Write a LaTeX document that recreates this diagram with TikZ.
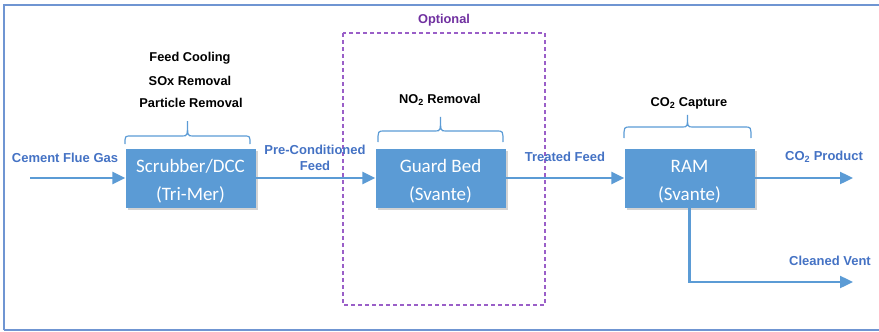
\documentclass[tikz,border=0pt]{standalone}
\usepackage{fontspec}
\setmainfont{Liberation Sans}
\newfontfamily\boxfont{Carlito}
\usetikzlibrary{arrows.meta,shadows}
\definecolor{boxblue}{HTML}{5B9BD5}
\definecolor{lblblue}{HTML}{4472C4}
\definecolor{framec}{HTML}{6F95D2}
\definecolor{optpurple}{HTML}{7030A0}
\definecolor{dashpurple}{HTML}{9A5FC8}
\newcommand\boxtxt[2]{\raisebox{-7pt}[0pt][0pt]{\begin{tabular}{@{}c@{}}#1\\#2\end{tabular}}}
\tikzset{
  procbox/.style={fill=boxblue, draw=none, minimum width=130pt, minimum height=59pt,
    text=white, font=\boxfont\fontsize{19}{28}\selectfont,
    drop shadow={shadow xshift=2pt, shadow yshift=-2pt, opacity=0.35, fill=gray}},
  flow/.style={draw=boxblue, line width=2.4pt, -{Triangle[length=13pt,width=12pt]}},
  flowlbl/.style={text=lblblue, font=\bfseries\fontsize{13}{16}\selectfont, align=center},
  notelbl/.style={text=black, font=\bfseries\fontsize{12.8}{15}\selectfont, align=center},
  bracec/.style={draw=boxblue, line width=1.2pt},
  framel/.style={draw=framec, line width=2pt},
}
\begin{document}
\begin{tikzpicture}[x=1pt,y=-1pt]
\useasboundingbox (0,0) rectangle (879,332);
% frame
\draw[framel] (4,330) -- (4,5) -- (879,5);
\draw[framel] (4,330) -- (879,330);
% optional dashed box
\draw[draw=dashpurple, dash pattern=on 4pt off 3pt, line width=1.1pt] (343,33) rectangle (545,305);
\node[text=optpurple, font=\bfseries\fontsize{12.8}{15}\selectfont] (opt) at (444,20) {Optional};
% boxes
\node[procbox] (scr) at (190.5,178) {\boxtxt{Scrubber/DCC}{(Tri-Mer)}};
\node[procbox] (gb) at (440.5,178) {\boxtxt{Guard Bed}{(Svante)}};
\node[procbox] (ram) at (689.5,178) {\boxtxt{RAM}{(Svante)}};
% coordinates
\coordinate (in) at (30,178);
\coordinate (prod) at (853,178);
\coordinate (vbend) at (689.5,282);
\coordinate (vent) at (853,282);
% flows
\draw[flow] (in) -- (scr.west);
\draw[flow] (scr.east) -- (gb.west);
\draw[flow] (gb.east) -- (ram.west);
\draw[flow] (ram.east) -- (prod);
\draw[flow] (ram.south) -- (vbend) -- (vent);
% flow labels
\node[flowlbl] (l1) at (65,158) {Cement Flue Gas};
\node[flowlbl] (l2) at (315,158) {Pre-Conditioned\\Feed};
\node[flowlbl] (l3) at (565,157) {Treated Feed};
\node[flowlbl] (l4) at (824,157) {CO\textsubscript{2} Product};
\node[flowlbl] (l5) at (830,261) {Cleaned Vent};
% notes
\node[notelbl] (n1) at (190,58) {Feed Cooling};
\node[notelbl] (n2) at (190,81) {SOx Removal};
\node[notelbl] (n3) at (191,103) {Particle Removal};
\node[notelbl] (n4) at (440,100) {NO\textsubscript{2} Removal};
\node[notelbl] (n5) at (689,103) {CO\textsubscript{2} Capture};
% braces
\draw[bracec] (125,144) .. controls (125,136) .. (131,136) -- (182,136) .. controls (187.5,136) .. (187.5,121)
  .. controls (187.5,136) .. (193,136) -- (244,136) .. controls (250,136) .. (250,144);
\draw[bracec] (378,142) .. controls (378,131) .. (384,131) -- (435,131) .. controls (440.5,131) .. (440.5,117)
  .. controls (440.5,131) .. (446,131) -- (497,131) .. controls (503,131) .. (503,142);
\draw[bracec] (624,138) .. controls (624,127) .. (630,127) -- (682,127) .. controls (687.5,127) .. (687.5,115)
  .. controls (687.5,127) .. (693,127) -- (745,127) .. controls (751,127) .. (751,138);
\end{tikzpicture}
\end{document}
